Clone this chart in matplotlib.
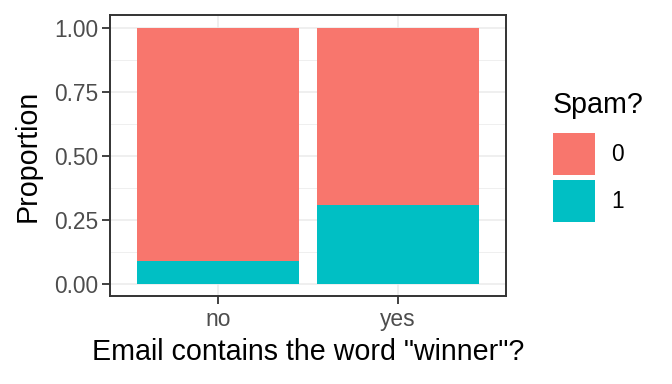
import matplotlib
matplotlib.use("Agg")
import matplotlib.pyplot as plt
from matplotlib.patches import Patch
import numpy as np

plt.rcParams['font.family'] = ['Liberation Sans', 'DejaVu Sans']

categories = ["no", "yes"]
spam_levels = ["0", "1"]
prop_spam1 = [0.09, 0.311]
prop_spam0 = [1 - p for p in prop_spam1]
yticks = [0.00, 0.25, 0.50, 0.75, 1.00]
ytick_labels = ["0.00", "0.25", "0.50", "0.75", "1.00"]

col0 = "#F8766D"
col1 = "#00BFC4"

W, H = 672, 384
fig = plt.figure(figsize=(W / 100, H / 100), dpi=100)
# panel: x 110..506, y 15..296 (pixels)
ax = fig.add_axes([110 / W, 1 - 296 / H, 396 / W, 281 / H])

x = np.arange(1, len(categories) + 1)
ax.bar(x, prop_spam1, width=0.9, color=col1, zorder=3)
ax.bar(x, prop_spam0, width=0.9, bottom=prop_spam1, color=col0, zorder=3)

ax.set_xlim(0.4, 2.6)
ax.set_ylim(-0.045, 1.05)
ax.set_xticks(x)
ax.set_xticklabels(categories)
ax.set_yticks(yticks)
ax.set_yticklabels(ytick_labels)
ax.set_yticks([0.125, 0.375, 0.625, 0.875], minor=True)
ax.set_xticks([], minor=True)

ax.grid(True, which='major', color='#EBEBEB', linewidth=1.1, zorder=0)
ax.grid(True, which='minor', axis='y', color='#EBEBEB', linewidth=0.55, zorder=0)
ax.set_axisbelow(True)
ax.tick_params(axis='both', which='major', labelsize=16.4, colors='#333333',
               labelcolor='#4D4D4D', length=5.5, width=1.3, pad=3)
ax.tick_params(which='minor', length=0)
for s in ax.spines.values():
    s.set_color('#333333')
    s.set_linewidth(1.4)

ax.set_xlabel('Email contains the word "winner"?', fontsize=20.6, color='black', labelpad=5.5)
ax.set_ylabel('Proportion', fontsize=20.6, color='black', labelpad=9)

fig.text(553 / W, 1 - 113 / H, "Spam?", fontsize=20.6, ha='left', va='baseline')
handles = [Patch(facecolor=col0, edgecolor='none'), Patch(facecolor=col1, edgecolor='none')]
leg = fig.legend(handles, spam_levels, loc='upper left',
                 bbox_to_anchor=(553 / W, 1 - 133 / H), frameon=False, fontsize=16.4,
                 handlelength=1.84, handleheight=2.457,
                 labelspacing=0.22, handletextpad=0.7, borderaxespad=0,
                 borderpad=0)

fig.savefig("out.png", dpi=100)
